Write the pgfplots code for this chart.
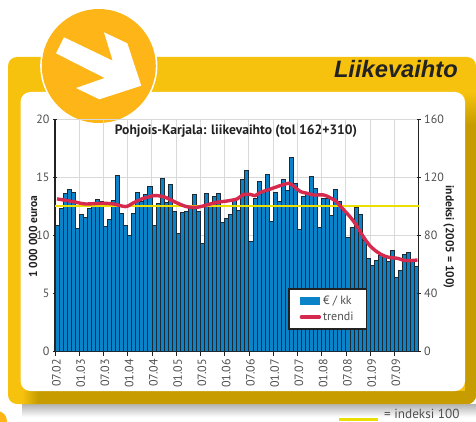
\documentclass[border=0pt]{standalone}
\usepackage{pgfplots}
\pgfplotsset{compat=1.18}
\usepackage{fontspec}
\setmainfont{PT Sans}
\definecolor{panelyellow}{HTML}{F6C20E}
\definecolor{paneldark}{HTML}{C69C00}
\definecolor{discorange}{HTML}{FDB517}
\definecolor{barblue}{HTML}{0A83C9}
\definecolor{baredge}{HTML}{1D2A33}
\definecolor{trendred}{HTML}{D5294D}
\definecolor{idxyellow}{HTML}{EBDF00}
\definecolor{tickgray}{HTML}{505050}
\definecolor{gridgray}{HTML}{D9D9D9}
\definecolor{axdark}{HTML}{222222}
\begin{document}
\begin{tikzpicture}
\path[use as bounding box] (0pt,0pt) rectangle (476pt,-422pt);
\begin{scope}[x=1pt,y=-1pt]
\clip (0,0) rectangle (476,422);
\fill[white] (0,0) rectangle (476,422);
% shadow
\shade[top color=black!30,bottom color=white] (22,404) rectangle (476,417);
% panel
\fill[panelyellow,rounded corners=9pt] (8,57) rectangle (476,404);
\begin{scope}
\clip[rounded corners=9pt] (8,57) rectangle (476,404);
\fill[paneldark] (38,391) rectangle (476,404);
\shade[left color=panelyellow,right color=paneldark] (22,391) rectangle (38,404);
\shade[top color=panelyellow,bottom color=paneldark] (465,92) rectangle (476,125);
\fill[paneldark] (465,125) rectangle (476,404);
\end{scope}
\fill[white,rounded corners=10pt] (20.5,92) rectangle (465,391);
% disc
\fill[white] (98.8,66) circle (58.6);
\fill[discorange] (98.8,66) circle (57);
\fill[white] (64,37.3)--(112.7,60.7)--(104,32.3)--(127.3,43.3)--(141.3,85.7)--(99.3,99.3)--(76,88)--(104.7,78)--(56,53.3)--cycle;
\fill[discorange] (-3,421) circle (10);
% heading
\node[anchor=base east,inner sep=0pt,font=\fontsize{23.7}{24}\selectfont\fontspec{Liberation Sans}\bfseries\itshape,text=axdark] at (458,78) {Liikevaihto};
% index note
\fill[idxyellow] (339,418.4) rectangle (378,421);
\node[anchor=base west,inner sep=0pt,font=\fontsize{13.2}{13}\selectfont,text=tickgray] at (384,418.3) {= indeksi 100};
\end{scope}
\begin{axis}[
  at={(55pt,-351.7pt)},anchor=south west,
  scale only axis,width=363.7pt,height=232.2pt,
  xmin=0.5,xmax=90.5,ymin=0,ymax=20,
  axis x line*=bottom,axis y line*=left,
  axis line style={axdark,line width=1.1pt},
  xtick={0.5,6.5,12.5,18.5,24.5,30.5,36.5,42.5,48.5,54.5,60.5,66.5,72.5,78.5,84.5},
  xticklabels={07.02,01.03,07.03,01.04,07.04,01.05,07.05,01.06,07.06,01.07,07.07,01.08,07.08,01.09,07.09},
  ytick={0,5,10,15,20},
  xmajorgrids,ymajorgrids,
  major grid style={gridgray,line width=1pt},
  tick style={axdark,line width=0.8pt},
  xtick align=outside,ytick align=center,
  major tick length=4pt,
  tick label style={text=tickgray,font=\fontsize{12}{12}\selectfont},
  x tick label style={rotate=90,anchor=east,yshift=-1.5pt},
  y tick label style={xshift=0pt},
  /pgf/number format/assume math mode=true,
  ylabel={\bfseries 1 000 000 euroa},
  ylabel style={font=\fontsize{11.5}{11.5}\selectfont,text=axdark,at={(axis description cs:-0.06,0.496)},anchor=center},
  clip=false,
  axis on top=false,
]
\addplot[ybar,bar width=1,bar shift=0pt,fill=barblue,draw=baredge,line width=0.95pt] table[x=i,y=v] {
i v
1 10.9
2 12.3
3 13.6
4 14.0
5 13.7
6 10.6
7 11.8
8 11.6
9 12.3
10 12.6
11 13.1
12 12.95
13 10.75
14 11.4
15 13.0
16 15.2
17 11.9
18 10.85
19 10.05
20 11.9
21 13.75
22 12.9
23 13.55
24 14.25
25 10.85
26 12.8
27 14.9
28 12.85
29 14.4
30 12.05
31 10.2
32 12.0
33 12.1
34 12.6
35 13.5
36 12.05
37 9.3
38 13.65
39 12.65
40 13.4
41 13.6
42 11.1
43 11.45
44 11.85
45 13.05
46 12.15
47 14.8
48 15.6
49 9.5
50 13.2
51 14.65
52 13.9
53 15.3
54 11.2
55 13.75
56 12.9
57 14.8
58 13.9
59 16.75
60 14.5
61 10.5
62 13.4
63 13.55
64 15.05
65 14.05
66 10.7
67 13.2
68 13.2
69 11.7
70 14.0
71 12.95
72 12.2
73 9.8
74 10.7
75 12.45
76 11.85
77 9.6
78 8.05
79 7.45
80 7.85
81 8.3
82 8.2
83 7.75
84 8.7
85 6.4
86 7.0
87 8.35
88 8.55
89 7.9
90 7.3
};
\end{axis}
\begin{axis}[
  at={(55pt,-351.7pt)},anchor=south west,
  scale only axis,width=363.7pt,height=232.2pt,
  xmin=0.5,xmax=90.5,ymin=0,ymax=160,
  axis x line=none,axis y line*=right,
  axis line style={axdark,line width=1.1pt},
  ytick={0,40,80,120,160},
  tick style={axdark,line width=0.8pt},
  ytick align=center,major tick length=4pt,
  tick label style={text=tickgray,font=\fontsize{12}{12}\selectfont},
  y tick label style={xshift=0pt},
  /pgf/number format/assume math mode=true,
  ylabel={\bfseries indeksi (2005 = 100)},
  ylabel style={font=\fontsize{11.5}{11.5}\selectfont,text=axdark,at={(axis description cs:1.0825,0.493)},anchor=center,rotate=180},
  clip=false,
  legend style={at={(axis description cs:0.64,0.2756)},anchor=north west,draw=axdark,line width=1.8pt,fill=white,
    font=\fontsize{12}{12}\selectfont,text=tickgray,legend cell align=left,
    inner xsep=11pt,inner ysep=5pt,row sep=2.5pt},
]
\addlegendimage{legend image code/.code={\fill[barblue] (0pt,-3pt) rectangle (18pt,3pt);}}
\addlegendentry{€ / kk}
\addplot[idxyellow,line width=2.5pt,forget plot] coordinates {(0.5,100.5) (90.5,100.5)};
\addplot[trendred,line width=3.4pt,smooth,tension=0.5,legend image code/.code={\draw[trendred,line width=3.4pt,line cap=round] (0pt,0pt)--(18pt,0pt);}] coordinates {
(1,105.3) (5,103.4) (8,101.8) (12,102.3) (15,101.8) (18,100.0) (20,102.7) (22,105.3) (25,107.6) (26,107.5) (28,106.2) (30,103.4) (33,100.0) (35.7,99.5) (38,101.1) (40.7,103.0) (43,103.8) (45.6,105.3) (47,108.2) (48.8,108.4) (50,107.5) (51.2,109.6) (53.7,112.0) (56.2,114.4) (58.3,116.0) (59.5,114.2) (61.2,110.4) (62.8,109.2) (64.5,108.0) (67,108.0) (68.5,106.2) (70.2,103.4) (71,100.6) (73.5,93.0) (75.2,86.6) (76.8,79.2) (78.5,72.8) (80.2,68.8) (81.8,66.2) (83.5,64.8) (85.2,64.4) (86.8,63.0) (88.5,62.8) (90.2,63.2)
};
\addlegendentry{trendi}
\end{axis}
\path (236pt,-131pt) node[font=\fontsize{13.6}{13.6}\selectfont\bfseries,text=axdark,inner sep=0pt] {Pohjois-Karjala: liikevaihto (tol 162+310)};
\end{tikzpicture}
\end{document}
